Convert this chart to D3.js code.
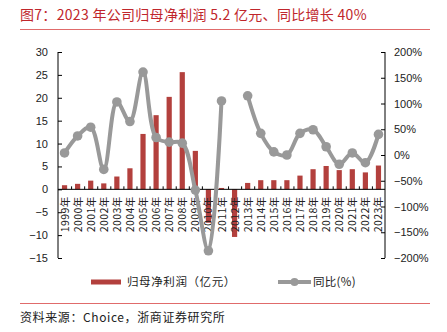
<!DOCTYPE html>
<html><head><meta charset="utf-8">
<script src="https://cdn.jsdelivr.net/npm/d3@7"></script>
<style>
body{margin:0;background:#fff;}
svg{display:block;}
</style></head>
<body><svg id="c" width="447" height="332"></svg>
<script>
const years = ["1999年","2000年","2001年","2002年","2003年","2004年","2005年","2006年","2007年","2008年","2009年","2010年","2011年","2012年","2013年","2014年","2015年","2016年","2017年","2018年","2019年","2020年","2021年","2022年","2023年"];
const profit = [0.9,1.2,1.9,1.3,2.8,4.6,12.1,16.2,20.2,25.6,8.4,-7.3,0.3,-10.4,1.4,2.0,2.0,2.0,3.0,4.4,5.1,4.2,4.4,3.7,5.2];
const growth = [4,37,54,-28,103,65,161,34,25,23,-68,-186,105,null,115,42,6,0,42,49,16,-18,4,-15,40];
const leftTicks = [-15,-10,-5,0,5,10,15,20,25,30];
const rightTicks = [-200,-150,-100,-50,0,50,100,150,200];
const titleText = "图7：2023 年公司归母净利润 5.2 亿元、同比增长 40%";
const legendBar = "归母净利润（亿元）";
const legendLine = "同比(%)";
const sourceText = "资料来源：Choice，浙商证券研究所";

const svg = d3.select("#c");
const L = 58, R = 385, T = 52, B = 258;
const red = "#c0262c", lineRed = "#e06b6b", barColor = "#b3403d", gray = "#999999";
const cjk = "'Noto Sans CJK SC','Noto Sans',sans-serif";
const latin = "'Liberation Sans',Arial,sans-serif";

// title
svg.append("text").attr("x",20).attr("y",20).attr("fill",red)
  .attr("font-family",cjk).attr("font-size",14).attr("letter-spacing",0.3).text(titleText);
svg.append("line").attr("x1",20).attr("x2",430).attr("y1",29.5).attr("y2",29.5)
  .attr("stroke",lineRed).attr("stroke-width",1);

const x = d3.scaleBand().domain(years).range([L,R]).paddingInner(0).paddingOuter(0);
const yL = d3.scaleLinear().domain([-15,30]).range([B,T]);
const yR = d3.scaleLinear().domain([-200,200]).range([B,T]);

// bars
svg.append("g").selectAll("rect").data(years).join("rect")
  .attr("x",(d)=>x(d)+x.bandwidth()/2-2.6)
  .attr("width",5.2)
  .attr("y",(d,i)=>yL(Math.max(0,profit[i])))
  .attr("height",(d,i)=>Math.abs(yL(profit[i])-yL(0)))
  .attr("fill",barColor);

// left axis
const gl = svg.append("g").attr("transform",`translate(${L},0)`)
  .call(d3.axisLeft(yL).tickValues(leftTicks).tickSize(-4).tickPadding(10).tickFormat(d=>d<0?"−"+Math.abs(d):d));
gl.select(".domain").attr("d",`M0,${T}V${B}`).attr("stroke","#000");
gl.selectAll("text").attr("font-family",latin).attr("font-size",11).attr("fill","#222");

// right axis
const gr = svg.append("g").attr("transform",`translate(${R},0)`)
  .call(d3.axisRight(yR).tickValues(rightTicks).tickSize(-4).tickPadding(9).tickFormat(d=>(d<0?"−"+Math.abs(d):d)+"%"));
gr.select(".domain").attr("d",`M0,${T}V${B}`).attr("stroke","#000");
gr.selectAll("text").attr("font-family",latin).attr("font-size",11).attr("fill","#222");

// x axis at zero
const gx = svg.append("g").attr("transform",`translate(0,${yL(0)})`);
gx.append("line").attr("x1",L).attr("x2",R).attr("stroke","#000");
gx.selectAll("line.t").data(years.slice(1)).join("line").attr("class","t")
  .attr("x1",d=>x(d)+0.5).attr("x2",d=>x(d)+0.5).attr("y1",0).attr("y2",-3).attr("stroke","#000");
gx.selectAll("text").data(years).join("text")
  .attr("transform",d=>`translate(${x(d)+x.bandwidth()/2+4},7) rotate(-90)`)
  .attr("text-anchor","end").attr("font-family",cjk).attr("font-size",10.5).attr("letter-spacing",0.4).attr("fill","#222")
  .text(d=>d);

// line
const line = d3.line().defined((d)=>d!=null)
  .x((d,i)=>x(years[i])+x.bandwidth()/2).y(d=>yR(d))
  .curve(d3.curveCatmullRom.alpha(0.5));
svg.append("path").datum(growth).attr("d",line).attr("fill","none")
  .attr("stroke",gray).attr("stroke-width",4);
svg.append("g").selectAll("circle").data(growth.map((v,i)=>({v,i})).filter(d=>d.v!=null)).join("circle")
  .attr("cx",d=>x(years[d.i])+x.bandwidth()/2).attr("cy",d=>yR(d.v)).attr("r",4.8).attr("fill",gray);

// legend
const ly = 282;
svg.append("rect").attr("x",91).attr("y",ly-2.5).attr("width",30).attr("height",5).attr("fill",barColor);
svg.append("text").attr("x",127).attr("y",ly+4).attr("font-family",cjk).attr("font-size",11.5).attr("letter-spacing",0.6).attr("fill","#222").text(legendBar);
svg.append("line").attr("x1",278).attr("x2",311).attr("y1",ly).attr("y2",ly).attr("stroke",gray).attr("stroke-width",4);
svg.append("circle").attr("cx",294.5).attr("cy",ly).attr("r",4).attr("fill",gray);
svg.append("text").attr("x",313).attr("y",ly+4).attr("font-family",cjk).attr("font-size",11.5).attr("letter-spacing",0.3).attr("fill","#222").text(legendLine);

// footer
svg.append("line").attr("x1",20).attr("x2",430).attr("y1",303.5).attr("y2",303.5)
  .attr("stroke",lineRed).attr("stroke-width",1);
svg.append("text").attr("x",20).attr("y",322).attr("font-family",cjk).attr("font-size",12).attr("letter-spacing",0.6).attr("fill","#222").text(sourceText);
</script></body></html>
